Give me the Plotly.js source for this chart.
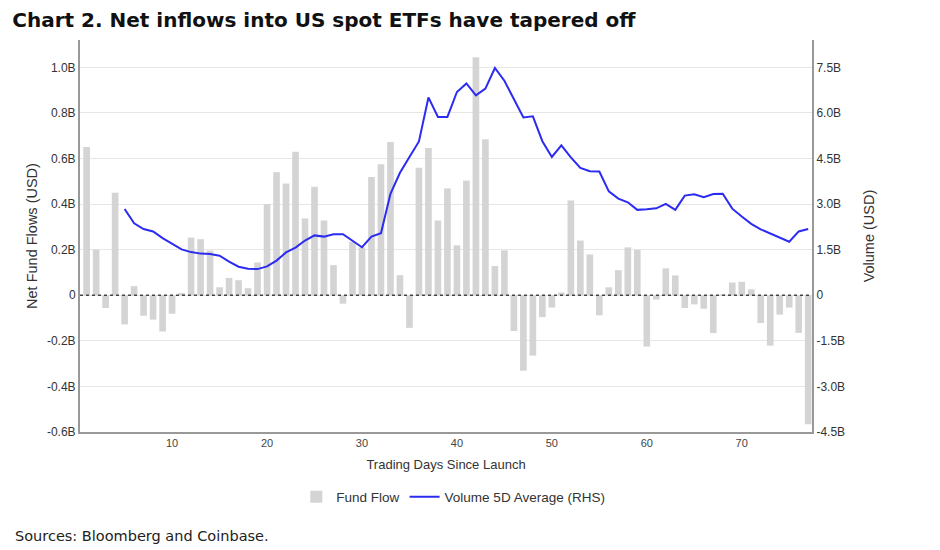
<!DOCTYPE html>
<html>
<head>
<meta charset="utf-8">
<script src="https://cdn.plot.ly/plotly-3.0.1.min.js"></script>
<style>
html,body{margin:0;padding:0;background:#fff;}
#chart{width:940px;height:550px;}
</style>
</head>
<body>
<div id="chart"></div>
<script>
// Trading days since launch
const days = Array.from({length: 77}, (_, i) => i + 1);

// Net fund flows (USD billions), left axis
const fundFlow = [
  0.65, 0.20, -0.056, 0.45, -0.128, 0.04, -0.09, -0.107, -0.159, -0.081,
  0.01, 0.253, 0.246, 0.196, 0.035, 0.076, 0.066, 0.031, 0.144, 0.40,
  0.54, 0.49, 0.63, 0.337, 0.476, 0.328, 0.132, -0.037, 0.235, 0.21,
  0.519, 0.575, 0.672, 0.088, -0.143, 0.56, 0.646, 0.328, 0.469, 0.219,
  0.503, 1.044, 0.684, 0.128, 0.197, -0.157, -0.331, -0.265, -0.096, -0.054,
  0.012, 0.416, 0.24, 0.179, -0.088, 0.035, 0.11, 0.21, 0.199, -0.225,
  -0.019, 0.118, 0.087, -0.056, -0.04, -0.059, -0.166, 0.004, 0.056, 0.059,
  0.026, -0.122, -0.221, -0.085, -0.054, -0.165, -0.566
];

// Volume 5D average (USD billions), right axis
const volume5D = [
  null, null, null, null, 2.84, 2.37, 2.18, 2.10, 1.88, 1.69,
  1.51, 1.42, 1.37, 1.36, 1.30, 1.11, 0.94, 0.87, 0.86, 0.95,
  1.14, 1.41, 1.57, 1.80, 1.97, 1.93, 2.01, 2.01, 1.80, 1.58,
  1.93, 2.04, 3.34, 4.03, 4.55, 5.06, 6.51, 5.87, 5.87, 6.69,
  6.97, 6.58, 6.80, 7.48, 7.06, 6.47, 5.85, 5.89, 5.07, 4.55,
  4.93, 4.54, 4.19, 4.08, 4.07, 3.42, 3.18, 3.06, 2.81, 2.83,
  2.86, 3.01, 2.81, 3.28, 3.32, 3.23, 3.33, 3.34, 2.85, 2.59,
  2.35, 2.17, 2.04, 1.91, 1.76, 2.10, 2.18
];

// Tick labels
const leftTickVals = [-0.6, -0.4, -0.2, 0, 0.2, 0.4, 0.6, 0.8, 1.0];
const leftTickText = ['-0.6B', '-0.4B', '-0.2B', '0', '0.2B', '0.4B', '0.6B', '0.8B', '1.0B'];
const rightTickVals = [-4.5, -3.0, -1.5, 0, 1.5, 3.0, 4.5, 6.0, 7.5];
const rightTickText = ['-4.5B', '-3.0B', '-1.5B', '0', '1.5B', '3.0B', '4.5B', '6.0B', '7.5B'];
const xTickVals = [10, 20, 30, 40, 50, 60, 70];

const FONT = 'Liberation Sans, Arial, sans-serif';

const traces = [
  {
    type: 'bar', name: 'Fund Flow', x: days, y: fundFlow,
    marker: {color: '#d4d4d4'}, width: 0.7, yaxis: 'y', hoverinfo: 'x+y'
  },
  {
    type: 'scatter', mode: 'lines', name: 'Volume 5D Average (RHS)',
    x: days, y: volume5D, yaxis: 'y2',
    line: {color: '#2b2bf2', width: 2}
  }
];

const layout = {
  width: 940, height: 550,
  paper_bgcolor: '#ffffff', plot_bgcolor: '#ffffff',
  margin: {l: 80, r: 128, t: 40, b: 118},
  font: {family: FONT, size: 12, color: '#333'},
  title: {
    text: '<b>Chart 2. Net inflows into US spot ETFs have tapered off</b>',
    font: {family: 'DejaVu Sans, Verdana, sans-serif', size: 20, color: '#111'},
    xref: 'container', yref: 'container', x: 0.013, xanchor: 'left', y: 0.963, yanchor: 'middle'
  },
  bargap: 0.3,
  showlegend: true,
  legend: {
    orientation: 'h', x: 0.51, xanchor: 'center', y: -0.166, yanchor: 'middle',
    font: {family: FONT, size: 13.5, color: '#333'}
  },
  xaxis: {
    range: [0.3, 77.4], tickvals: xTickVals, ticks: '', showgrid: false,
    zeroline: false, showline: true, linecolor: '#999', linewidth: 2,
    tickfont: {size: 11, color: '#444'},
    title: {text: 'Trading Days Since Launch', font: {size: 13, color: '#333'}, standoff: 12}
  },
  yaxis: {
    range: [-0.6, 1.12], tickvals: leftTickVals, ticktext: leftTickText,
    showgrid: true, gridcolor: '#e6e6e6', gridwidth: 1,
    zeroline: false, showline: true, linecolor: '#999', linewidth: 2,
    ticks: '', tickfont: {size: 12, color: '#333'},
    title: {text: 'Net Fund Flows (USD)', font: {size: 14.5, color: '#333'}, standoff: 6}
  },
  yaxis2: {
    range: [-4.5, 8.4], tickvals: rightTickVals, ticktext: rightTickText,
    overlaying: 'y', side: 'right', showgrid: false, zeroline: false,
    showline: true, linecolor: '#999', linewidth: 2,
    ticks: '', tickfont: {size: 12, color: '#333'},
    title: {text: 'Volume (USD)', font: {size: 14.5, color: '#333'}, standoff: 20}
  },
  shapes: [
    {type: 'line', xref: 'paper', x0: 0, x1: 1, yref: 'y', y0: 0, y1: 0,
     line: {color: '#444', width: 1.5, dash: 'dot'}, layer: 'above'}
  ],
  annotations: [
    {text: 'Sources: Bloomberg and Coinbase.', xref: 'paper', yref: 'paper',
     x: -0.092, xanchor: 'left', y: -0.265, yanchor: 'middle', showarrow: false,
     font: {family: 'DejaVu Sans, Verdana, sans-serif', size: 14.5, color: '#222'}}
  ]
};

Plotly.newPlot('chart', traces, layout, {displayModeBar: false, staticPlot: true});
</script>
</body>
</html>
